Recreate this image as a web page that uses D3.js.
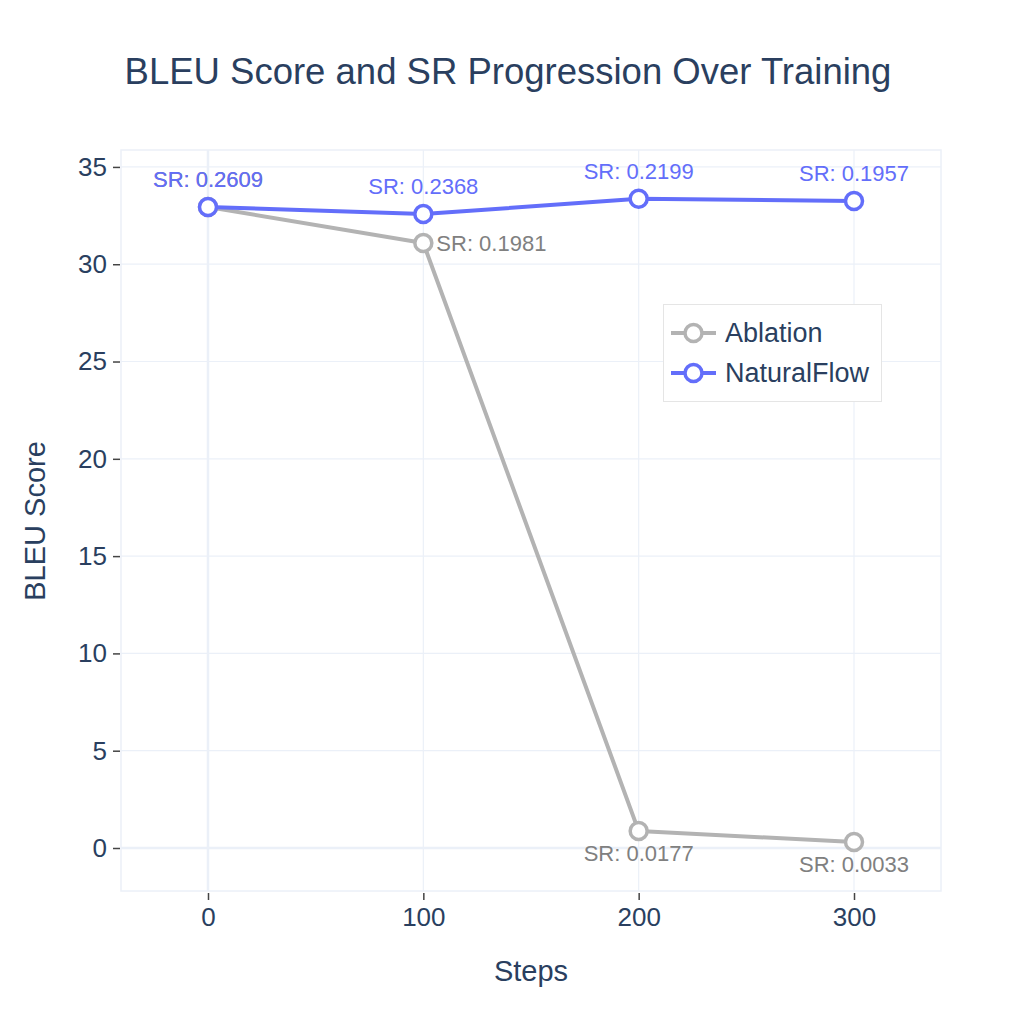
<!DOCTYPE html>
<html>
<head>
<meta charset="utf-8">
<script src="https://cdn.jsdelivr.net/npm/d3@7"></script>
<style>
  html, body { margin: 0; padding: 0; background: #fff; }
  svg { display: block; font-family: "Liberation Sans", Arial, sans-serif; }
</style>
</head>
<body>
<svg id="chart" width="1017" height="1017"></svg>
<script>
const steps = [0, 100, 200, 300];
const naturalFlowBleu = [32.94, 32.58, 33.36, 33.25];
const naturalFlowSR = ["0.2609", "0.2368", "0.2199", "0.1957"];
const ablationBleu = [32.94, 31.09, 0.87, 0.31];
const ablationSR = ["0.2609", "0.1981", "0.0177", "0.0033"];
const ablationLabelPos = ["top", "right", "bottom", "bottom"];
const xTicks = [0, 100, 200, 300];
const yTicks = [0, 5, 10, 15, 20, 25, 30, 35];

const W = 1017, H = 1017;
const m = { left: 121, right: 941, top: 150, bottom: 891 };
const svg = d3.select("#chart");
const textColor = "#2a3f5f";
const gridColor = "#ebf0f8";

const x = d3.scaleLinear().domain([-40.4, 340.4]).range([m.left, m.right]);
const y = d3.scaleLinear().domain([-2.21, 35.87]).range([m.bottom, m.top]);

// grid
const g = svg.append("g");
g.selectAll(".gx").data(xTicks).join("line")
  .attr("x1", d => x(d)).attr("x2", d => x(d))
  .attr("y1", m.top).attr("y2", m.bottom)
  .attr("stroke", gridColor).attr("stroke-width", d => d === 0 ? 2.5 : 1.2);
g.selectAll(".gy").data(yTicks).join("line")
  .attr("x1", m.left).attr("x2", m.right)
  .attr("y1", d => y(d)).attr("y2", d => y(d))
  .attr("stroke", gridColor).attr("stroke-width", d => d === 0 ? 2.5 : 1.2);
g.append("rect").attr("x", m.left).attr("y", m.top)
  .attr("width", m.right - m.left).attr("height", m.bottom - m.top)
  .attr("fill", "none").attr("stroke", gridColor).attr("stroke-width", 1.5);

// axes
const xAxis = d3.axisBottom(x).tickValues(xTicks).tickSize(7).tickPadding(8).tickFormat(d3.format("d"));
const xa = svg.append("g").attr("transform", `translate(0,${m.bottom + 2})`).call(xAxis);
xa.select(".domain").remove();
xa.selectAll(".tick line").attr("stroke", "#444").attr("stroke-width", 1.5);
xa.selectAll(".tick text").attr("fill", textColor).attr("font-size", 26).attr("font-family", "Liberation Sans, Arial, sans-serif");

const yAxis = d3.axisLeft(y).tickValues(yTicks).tickSize(7).tickPadding(6).tickFormat(d3.format("d"));
const ya = svg.append("g").attr("transform", `translate(${m.left - 1},0)`).call(yAxis);
ya.select(".domain").remove();
ya.selectAll(".tick line").attr("stroke", "#444").attr("stroke-width", 1.5);
ya.selectAll(".tick text").attr("fill", textColor).attr("font-size", 26).attr("font-family", "Liberation Sans, Arial, sans-serif");

// titles
svg.append("text").attr("x", 508).attr("y", 84).attr("text-anchor", "middle")
  .attr("fill", textColor).attr("font-size", 36.5).text("BLEU Score and SR Progression Over Training");
svg.append("text").attr("x", 531).attr("y", 981).attr("text-anchor", "middle")
  .attr("fill", textColor).attr("font-size", 29).text("Steps");
svg.append("text").attr("transform", `translate(45,${521}) rotate(-90)`).attr("text-anchor", "middle")
  .attr("fill", textColor).attr("font-size", 29).text("BLEU Score");

// series
const line = d3.line().x(d => x(d[0])).y(d => y(d[1]));
function drawSeries(vals, color, labels, positions, labelColor) {
  const pts = steps.map((s, i) => [s, vals[i]]);
  svg.append("path").datum(pts).attr("d", line)
    .attr("fill", "none").attr("stroke", color).attr("stroke-width", 4).attr("stroke-linejoin", "round");
  svg.append("g").selectAll("circle").data(pts).join("circle")
    .attr("cx", d => x(d[0])).attr("cy", d => y(d[1])).attr("r", 8.5)
    .attr("fill", "#fff").attr("stroke", color).attr("stroke-width", 3.5);
  svg.append("g").selectAll("text").data(pts).join("text")
    .attr("font-size", 22).attr("fill", labelColor)
    .attr("x", (d, i) => positions[i] === "right" ? x(d[0]) + 13 : x(d[0]))
    .attr("y", (d, i) => positions[i] === "top" ? y(d[1]) - 20 : positions[i] === "bottom" ? y(d[1]) + 30 : y(d[1]) + 8)
    .attr("text-anchor", (d, i) => positions[i] === "right" ? "start" : "middle")
    .text((d, i) => "SR: " + labels[i]);
}
drawSeries(ablationBleu, "#b3b3b3", ablationSR, ablationLabelPos, "#808080");
drawSeries(naturalFlowBleu, "#636efa", naturalFlowSR, ["top", "top", "top", "top"], "#636efa");

// legend
const lg = svg.append("g");
lg.append("rect").attr("x", 663.5).attr("y", 304.5).attr("width", 218).attr("height", 97)
  .attr("fill", "#fff").attr("stroke", "#e5e5e5").attr("stroke-width", 1);
const legendItems = [
  { name: "Ablation", color: "#b3b3b3" },
  { name: "NaturalFlow", color: "#636efa" }
];
legendItems.forEach((it, i) => {
  const cy = 333 + i * 40;
  lg.append("line").attr("x1", 671).attr("x2", 716).attr("y1", cy).attr("y2", cy)
    .attr("stroke", it.color).attr("stroke-width", 4);
  lg.append("circle").attr("cx", 693.5).attr("cy", cy).attr("r", 8.5)
    .attr("fill", "#fff").attr("stroke", it.color).attr("stroke-width", 3.5);
  lg.append("text").attr("x", 725).attr("y", cy + 9).attr("font-size", 27)
    .attr("fill", textColor).text(it.name);
});
</script>
</body>
</html>
